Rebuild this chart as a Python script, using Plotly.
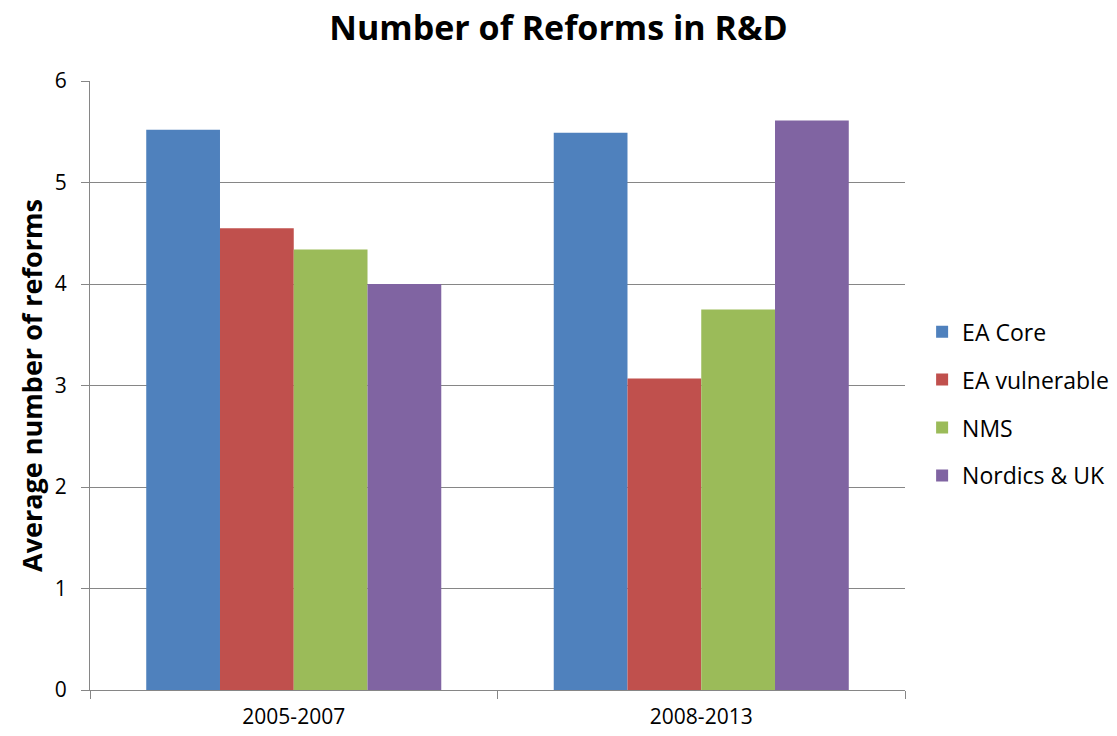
import plotly.graph_objects as go

periods = ["2005-2007", "2008-2013"]
series_names = ["EA Core", "EA vulnerable", "NMS", "Nordics & UK"]
ea_core = [5.52, 5.49]
ea_vulnerable = [4.55, 3.07]
nms = [4.34, 3.75]
nordics_uk = [4.0, 5.61]
colors = ["#4F81BD", "#C0504D", "#9BBB59", "#8064A2"]

values = [ea_core, ea_vulnerable, nms, nordics_uk]
FONT = "'Open Sans', sans-serif"

fig = go.Figure()
for i, (name, vals) in enumerate(zip(series_names, values)):
    fig.add_trace(go.Bar(
        x=periods, y=vals, name=name, legendgroup=name,
        marker=dict(color=colors[i], line=dict(width=0)),
    ))

fig.update_layout(
    width=1117, height=736,
    margin=dict(l=90, r=212, t=81, b=46, autoexpand=False),
    paper_bgcolor="white", plot_bgcolor="white",
    barmode="group", bargap=0.276, bargroupgap=0,
    font=dict(family=FONT, size=21, color="black"),
    title=dict(text="<b>Number of Reforms in R&D</b>", x=0.5, xanchor="center",
               y=0.962, yanchor="middle",
               font=dict(family=FONT, size=34, color="black")),
    showlegend=True,
    legend=dict(x=1.021, xanchor="left", y=0.47, yanchor="middle",
                traceorder="grouped", tracegroupgap=15,
                font=dict(family=FONT, size=23, color="black"),
                itemwidth=30),
    xaxis=dict(showline=True, linecolor="#868686", linewidth=1,
               ticks="outside", tickson="boundaries", ticklen=8, tickcolor="#868686",
               tickfont=dict(size=21), showgrid=False, ticklabelstandoff=8),
    yaxis=dict(range=[0, 6], dtick=1, showline=True, linecolor="#868686", linewidth=1,
               ticks="outside", ticklen=8, tickcolor="#868686",
               showgrid=True, gridcolor="#868686", gridwidth=1,
               zeroline=False, tickfont=dict(size=21), ticklabelstandoff=10,
               title=dict(text="<b>Average number of reforms</b>", standoff=4,
                          font=dict(family=FONT, size=27, color="black"))),
)

fig.write_html("out.html")
